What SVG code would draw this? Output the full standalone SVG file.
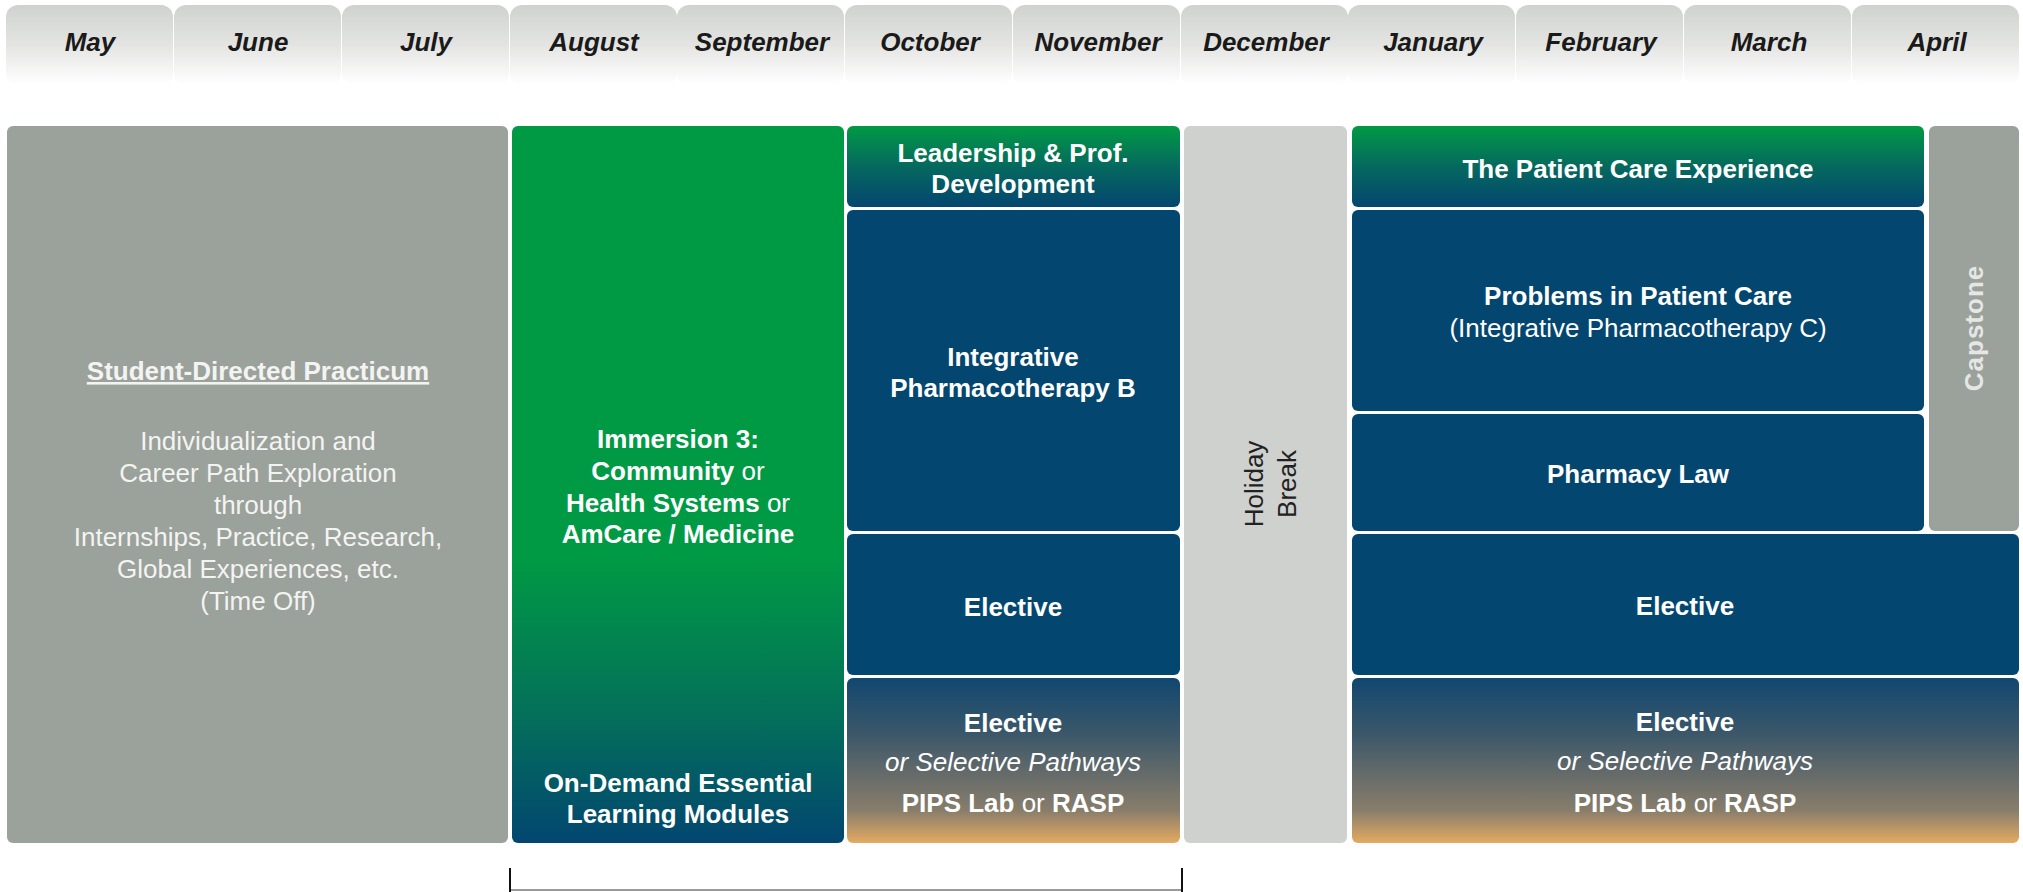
<svg xmlns="http://www.w3.org/2000/svg" width="2023" height="892" viewBox="0 0 2023 892">
<defs>
<linearGradient id="gHdr" x1="0" y1="0" x2="0" y2="1">
<stop offset="0" stop-color="#d0d2cf"/>
<stop offset="0.5" stop-color="#e4e5e3"/>
<stop offset="1" stop-color="#ffffff"/>
</linearGradient>
<linearGradient id="gImm" x1="0" y1="0" x2="0" y2="1">
<stop offset="0" stop-color="#009a44"/>
<stop offset="0.6" stop-color="#009a44"/>
<stop offset="0.82" stop-color="#04705a"/>
<stop offset="1" stop-color="#024670"/>
</linearGradient>
<linearGradient id="gTop" x1="0" y1="0" x2="0" y2="1">
<stop offset="0" stop-color="#009a44"/>
<stop offset="0.5" stop-color="#05695e"/>
<stop offset="1" stop-color="#044670"/>
</linearGradient>
<linearGradient id="gSel" x1="0" y1="0" x2="0" y2="1">
<stop offset="0" stop-color="#114770"/>
<stop offset="0.35" stop-color="#3d5869"/>
<stop offset="0.62" stop-color="#6b6e6a"/>
<stop offset="0.8" stop-color="#877d6b"/>
<stop offset="1" stop-color="#e4aa60"/>
</linearGradient>
</defs>
<style>
text{font-family:"Liberation Sans",Arial,Helvetica,sans-serif;font-size:26px;text-anchor:middle}
.m{font-weight:bold;font-style:italic;fill:#1a1a1a}
.w{fill:#ffffff}
.b{font-weight:bold}
.i{font-style:italic}
.lt{fill:#f3f4f2}
.hb{fill:#222222}
.cap{fill:#e6e7e5;font-weight:bold}
.hdr{fill:url(#gHdr)}
.gray{fill:#9ba19b}
.navy{fill:#03466f}
.hol{fill:#cfd1ce}
</style>
<rect width="2023" height="892" fill="#ffffff"/>
<g id="header">
<rect class="hdr" x="6" y="5" width="167" height="80" rx="12"/>
<rect class="hdr" x="174" y="5" width="167" height="80" rx="12"/>
<rect class="hdr" x="342" y="5" width="167" height="80" rx="12"/>
<rect class="hdr" x="510" y="5" width="167" height="80" rx="12"/>
<rect class="hdr" x="677" y="5" width="167" height="80" rx="12"/>
<rect class="hdr" x="845" y="5" width="167" height="80" rx="12"/>
<rect class="hdr" x="1013" y="5" width="167" height="80" rx="12"/>
<rect class="hdr" x="1181" y="5" width="167" height="80" rx="12"/>
<rect class="hdr" x="1348" y="5" width="167" height="80" rx="12"/>
<rect class="hdr" x="1516" y="5" width="167" height="80" rx="12"/>
<rect class="hdr" x="1684" y="5" width="167" height="80" rx="12"/>
<rect class="hdr" x="1852" y="5" width="167" height="80" rx="12"/>
<text class="m" x="90" y="51">May</text>
<text class="m" x="258" y="51">June</text>
<text class="m" x="426" y="51">July</text>
<text class="m" x="594" y="51">August</text>
<text class="m" x="762" y="51">September</text>
<text class="m" x="930" y="51">October</text>
<text class="m" x="1098" y="51">November</text>
<text class="m" x="1266" y="51">December</text>
<text class="m" x="1433" y="51">January</text>
<text class="m" x="1601" y="51">February</text>
<text class="m" x="1769" y="51">March</text>
<text class="m" x="1937" y="51">April</text>
</g>
<g id="practicum">
<rect class="gray" x="7" y="126" width="501" height="717" rx="6"/>
<text class="lt b" x="258" y="380" text-decoration="underline">Student-Directed Practicum</text>
<text class="lt" x="258" y="450">Individualization and</text>
<text class="lt" x="258" y="482">Career Path Exploration</text>
<text class="lt" x="258" y="514">through</text>
<text class="lt" x="258" y="546">Internships, Practice, Research,</text>
<text class="lt" x="258" y="578">Global Experiences, etc.</text>
<text class="lt" x="258" y="610">(Time Off)</text>
</g>
<g id="immersion">
<rect x="512" y="126" width="332" height="717" rx="6" fill="url(#gImm)"/>
<text class="w b" x="678" y="448">Immersion 3:</text>
<text class="w" x="678" y="480"><tspan class="b">Community</tspan> or</text>
<text class="w" x="678" y="512"><tspan class="b">Health Systems</tspan> or</text>
<text class="w b" x="678" y="543">AmCare / Medicine</text>
<text class="w b" x="678" y="792">On-Demand Essential</text>
<text class="w b" x="678" y="823">Learning Modules</text>
</g>
<g id="leadership">
<rect x="847" y="126" width="333" height="81" rx="6" fill="url(#gTop)"/>
<text class="w b" x="1013" y="162">Leadership &amp; Prof.</text>
<text class="w b" x="1013" y="193">Development</text>
</g>
<g id="integrative-b">
<rect class="navy" x="847" y="210" width="333" height="321" rx="6"/>
<text class="w b" x="1013" y="366">Integrative</text>
<text class="w b" x="1013" y="397">Pharmacotherapy B</text>
</g>
<g id="elective-fall">
<rect class="navy" x="847" y="534" width="333" height="141" rx="6"/>
<text class="w b" x="1013" y="616">Elective</text>
</g>
<g id="selective-fall">
<rect x="847" y="678" width="333" height="165" rx="6" fill="url(#gSel)"/>
<text class="w b" x="1013" y="732">Elective</text>
<text class="w i" x="1013" y="771">or Selective Pathways</text>
<text class="w" x="1013" y="812"><tspan class="b">PIPS Lab</tspan> or <tspan class="b">RASP</tspan></text>
</g>
<g id="holiday">
<rect class="hol" x="1184" y="126" width="163" height="717" rx="6"/>
<g transform="translate(1263,484) rotate(-90)">
<text class="hb" x="0" y="0">Holiday</text>
<text class="hb" x="0" y="33">Break</text>
</g>
</g>
<g id="patient-care">
<rect x="1352" y="126" width="572" height="81" rx="6" fill="url(#gTop)"/>
<text class="w b" x="1638" y="178">The Patient Care Experience</text>
</g>
<g id="problems">
<rect class="navy" x="1352" y="210" width="572" height="201" rx="6"/>
<text class="w b" x="1638" y="305">Problems in Patient Care</text>
<text class="w" x="1638" y="337">(Integrative Pharmacotherapy C)</text>
</g>
<g id="law">
<rect class="navy" x="1352" y="414" width="572" height="117" rx="6"/>
<text class="w b" x="1638" y="483">Pharmacy Law</text>
</g>
<g id="capstone">
<rect class="gray" x="1929" y="126" width="90" height="405" rx="6"/>
<text class="cap" transform="translate(1974,328) rotate(-90)" x="0" y="9" letter-spacing="1">Capstone</text>
</g>
<g id="elective-spring">
<rect class="navy" x="1352" y="534" width="667" height="141" rx="6"/>
<text class="w b" x="1685" y="615">Elective</text>
</g>
<g id="selective-spring">
<rect x="1352" y="678" width="667" height="165" rx="6" fill="url(#gSel)"/>
<text class="w b" x="1685" y="731">Elective</text>
<text class="w i" x="1685" y="770">or Selective Pathways</text>
<text class="w" x="1685" y="812"><tspan class="b">PIPS Lab</tspan> or <tspan class="b">RASP</tspan></text>
</g>
<g id="connectors">
<line x1="510" y1="890" x2="1182" y2="890" stroke="#9a9a9a" stroke-width="2"/>
<line x1="510" y1="868" x2="510" y2="892" stroke="#111111" stroke-width="2"/>
<line x1="1182" y1="868" x2="1182" y2="892" stroke="#111111" stroke-width="2"/>
</g>
</svg>
